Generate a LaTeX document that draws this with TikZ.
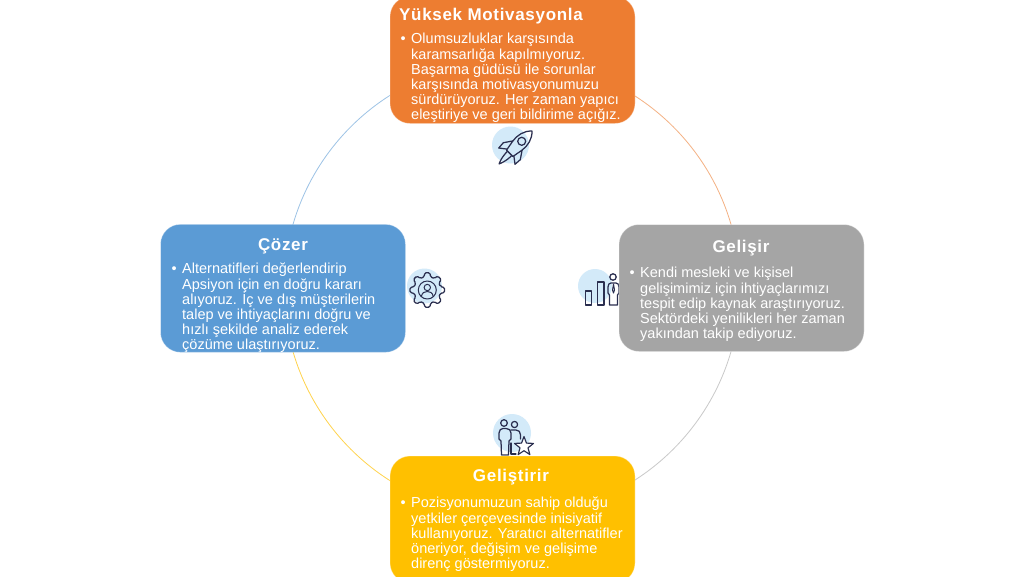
\documentclass[tikz,border=0pt]{standalone}
\usepackage{fontspec}
\setmainfont{Liberation Sans}
\newfontfamily\titlefont[LetterSpace=4]{Liberation Sans}
\definecolor{cOrange}{HTML}{ED7D31}
\definecolor{cGrey}{HTML}{A5A5A5}
\definecolor{cYellow}{HTML}{FFC000}
\definecolor{cBlue}{HTML}{5B9BD5}
\definecolor{cTint}{HTML}{D3EAF9}
\definecolor{cInk}{HTML}{2A2E4F}
\tikzset{
  x=1pt,y=-1pt,
  card/.style={rectangle,rounded corners=20pt,minimum width=245pt,minimum height=127pt,inner sep=0pt,draw=white,draw opacity=0.35,line width=0.8pt},
  cardtitle/.style={anchor=base,inner sep=0pt,text=white,font=\titlefont\fontsize{17}{17}\bfseries\selectfont},
  cardbody/.style={anchor=north west,inner sep=0pt,align=left,text=white,font=\fontsize{14.5}{15}\selectfont},
  ring/.style={line width=0.8pt},
  tint/.style={fill=cTint,draw=none},
  icon/.style={draw=cInk,line width=1.25pt,line join=round,line cap=round},
}
\newcommand{\bul}{\strut\llap{•\hspace{5.5pt}}}
\begin{document}
\begin{tikzpicture}
\useasboundingbox (0,0) rectangle (1024,576);
\fill[white] (0,0) rectangle (1024,576);
\coordinate (c) at (512,288);
\draw[ring,cBlue!60] (c) ++(-180:228) arc[start angle=-180,end angle=-90,radius=228];
\draw[ring,cOrange!60] (c) ++(-90:228) arc[start angle=-90,end angle=0,radius=228];
\draw[ring,cGrey!60] (c) ++(0:228) arc[start angle=0,end angle=90,radius=228];
\draw[ring,cYellow!70] (c) ++(90:228) arc[start angle=90,end angle=180,radius=228];

% rocket
\fill[tint] (510.5,145) circle[radius=18.5];
\begin{scope}[shift={(521,142)},rotate=-45]
  \draw[icon] (0,-15.5) .. controls (6,-10) and (7.5,-2) .. (6.5,5) -- (4.5,16) -- (-4.5,16) -- (-6.5,5) .. controls (-7.5,-2) and (-6,-10) .. (0,-15.5) -- cycle;
  \draw[icon] (0,-1) circle[radius=4];
  \draw[icon] (6.5,5) -- (12,13) -- (11.5,20) -- (5,15);
  \draw[icon] (-6.5,5) -- (-12,13) -- (-11.5,20) -- (-5,15);
  \draw[icon] (-3,16.5) .. controls (-3,24) and (-1,29) .. (0,31) .. controls (1,29) and (3,24) .. (3,16.5);
\end{scope}

% gear
\fill[tint] (424.5,286) circle[radius=17.5];
\begin{scope}[shift={(427.3,290)}]
  \draw[icon,rounded corners=1.5pt] (-13:13.5) \foreach \a in {0,45,...,315}{ -- (\a-13:13.5) -- (\a-9:17.5) -- (\a+9:17.5) -- (\a+13:13.5) } -- cycle;
  \draw[icon,line width=1pt] (0,0) circle[radius=9];
  \draw[icon,line width=1pt] (0,-2.5) circle[radius=3.2];
  \draw[icon,line width=1pt] (-6,6.5) .. controls (-5,2.5) and (-3,1.5) .. (0,1.5) .. controls (3,1.5) and (5,2.5) .. (6,6.5);
\end{scope}

% bars and person
\fill[tint] (595,286) circle[radius=17];
\draw[icon] (585.5,291) rectangle (591.5,305);
\draw[icon] (597.5,282) rectangle (604,305);
\draw[icon] (613,277) circle[radius=3.2];
\draw[icon] (609.5,305) -- (609.5,295) -- (608,293) -- (608,287) .. controls (608,284.5) and (609,283) .. (611,283) -- (616,283) .. controls (618,283) and (619,284.5) .. (619,287) -- (619,293) -- (617.5,295) -- (617.5,305) -- cycle;
\draw[icon,line width=1pt] (613.5,284) -- (612.5,290) -- (613.5,293) -- (614.5,290) -- cycle;

% people and star
\fill[tint] (512,433) circle[radius=19];
\draw[icon] (504,423) circle[radius=3.3];
\draw[icon] (514.5,424.5) circle[radius=3.1];
\draw[icon] (501,441) -- (499,439) -- (499,433) .. controls (499,430) and (501,428.5) .. (503,428.5) -- (506,428.5) .. controls (509,428.5) and (511,430) .. (511,433) -- (511,439) -- (509,441) -- (508.5,455) -- (501.5,455) -- cycle;
\draw[icon] (511,430) -- (516,430) .. controls (519,430) and (520.5,432) .. (520.5,435) -- (520.5,439);
\draw[icon] (511,443) -- (511,454) -- (516,454);
\begin{scope}[shift={(524,446.5)}]
  \draw[icon,line width=1.15pt,fill=white] (-90:10) -- (-54:4.2) -- (-18:10) -- (18:4.2) -- (54:10) -- (90:4.2) -- (126:10) -- (162:4.2) -- (198:10) -- (234:4.2) -- cycle;
\end{scope}

% cards
\node[card,fill=cOrange] (top) at (512.5,60) {};
\node[card,fill=cGrey] (right) at (741.5,288) {};
\node[card,fill=cYellow] (bottom) at (512.5,519.5) {};
\node[card,fill=cBlue,minimum height=128pt] (left) at (283,288.3) {};

\node[cardtitle] (toptitle) at (491,20) {Yüksek Motivasyonla};
\node[cardbody] (topbody) at (411,33) {\bul Olumsuzluklar karşısında\\karamsarlığa kapılmıyoruz.\\Başarma güdüsü ile sorunlar\\karşısında motivasyonumuzu\\sürdürüyoruz. Her zaman yapıcı\\eleştiriye ve geri bildirime açığız.};

\node[cardtitle] (righttitle) at (741,252) {Gelişir};
\node[cardbody] (rightbody) at (640,266.5) {\bul Kendi mesleki ve kişisel\\gelişimimiz için ihtiyaçlarımızı\\tespit edip kaynak araştırıyoruz.\\Sektördeki yenilikleri her zaman\\yakından takip ediyoruz.};

\node[cardtitle] (bottomtitle) at (511,481) {Geliştirir};
\node[cardbody] (bottombody) at (411,496.5) {\bul Pozisyonumuzun sahip olduğu\\yetkiler çerçevesinde inisiyatif\\kullanıyoruz. Yaratıcı alternatifler\\öneriyor, değişim ve gelişime\\direnç göstermiyoruz.};

\node[cardtitle] (lefttitle) at (283,250) {Çözer};
\node[cardbody] (leftbody) at (182,262.5) {\bul Alternatifleri değerlendirip\\Apsiyon için en doğru kararı\\alıyoruz. \smash{İ}ç ve dış müşterilerin\\talep ve ihtiyaçlarını doğru ve\\hızlı şekilde analiz ederek\\çözüme ulaştırıyoruz.};
\end{tikzpicture}
\end{document}
